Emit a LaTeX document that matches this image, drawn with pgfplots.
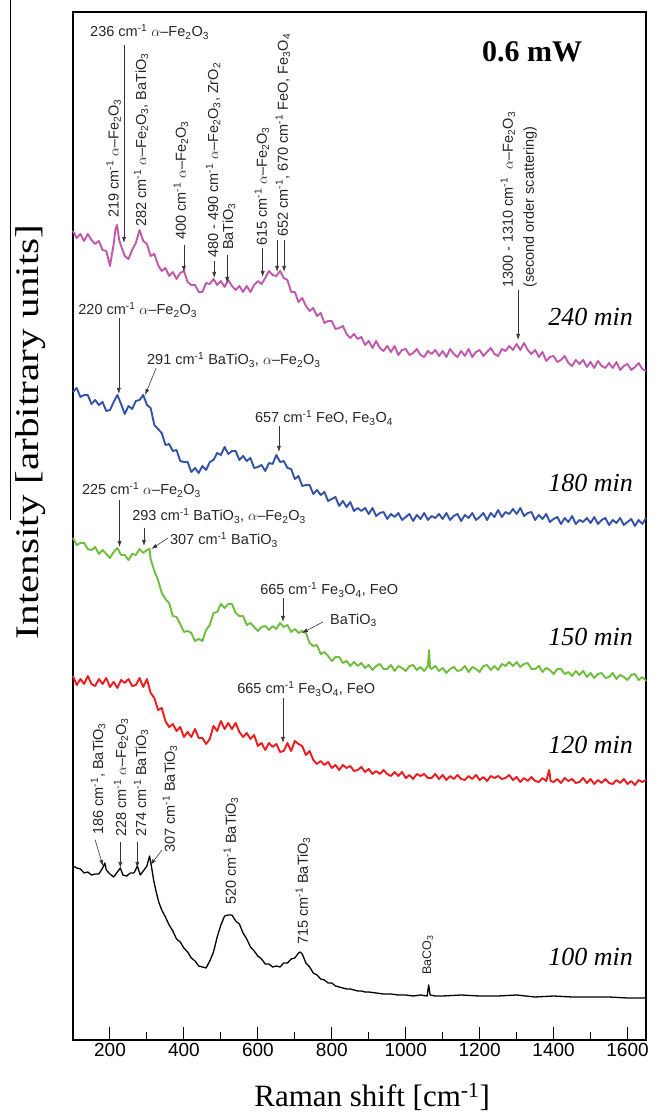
\documentclass[border=0pt]{standalone}
\usepackage{fontspec}
\setmainfont{Liberation Serif}
\setsansfont{Liberation Sans}
\usepackage{graphicx}
\usepackage{pgfplots}
\pgfplotsset{compat=1.18}
\usetikzlibrary{arrows.meta}
\definecolor{cmag}{RGB}{192,88,172}
\definecolor{cblue}{RGB}{52,82,168}
\definecolor{cgreen}{RGB}{110,190,60}
\definecolor{cred}{RGB}{238,28,30}
\newcommand{\cmi}{cm\textsuperscript{-1}}
\newcommand{\aFe}{$\alpha$--Fe\textsubscript{2}O\textsubscript{3}}
\newcommand{\BT}{BaTiO\textsubscript{3}}
\newcommand{\FeFe}{Fe\textsubscript{3}O\textsubscript{4}}
\newcommand{\annf}{\fontsize{14.5}{21}\selectfont\sffamily}
\tikzset{arr/.style={-{Latex[length=6pt,width=4pt]}, line width=0.6pt, black!80},
 ann/.style={font=\annf, inner sep=0pt, text=black!85},
 vann/.style={ann, rotate=90, anchor=west},
 tlab/.style={font=\fontsize{26}{26}\selectfont\itshape, anchor=east, inner sep=0pt}}
\begin{document}
\begin{tikzpicture}
\begin{axis}[
 scale only axis, width=573pt, height=1028pt,
 xmin=100, xmax=1650, ymin=0, ymax=1028,
 axis line style={line width=1.3pt},
 xtick={200,400,...,1600},
 minor xtick={300,500,...,1500},
 ytick=\empty,
 xtick pos=bottom, tick align=inside,
 major tick length=13pt, minor tick length=8pt,
 tick style={line width=1pt, black},
 xticklabel style={font=\fontsize{19}{19}\selectfont\sffamily},
 /pgf/number format/assume math mode=true,
 /pgf/number format/1000 sep={},
 clip=false,
]
\addplot[cmag, line width=1.9pt, line join=round] coordinates {(100,809)(110,802)(120,806)(130,799)(140,806)(150,800)(160,796)(170,799)(180,790)(190,789)(200,774)(210,796)(215,811)(219,815)(225,800)(230,794)(240,784)(250,781)(260,790)(270,797)(280,810)(290,799)(300,796)(310,784)(320,786)(330,775)(340,769)(350,772)(360,764)(370,768)(380,761)(390,767)(400,769)(410,758)(420,755)(430,755)(440,748)(450,748)(460,757)(470,756)(480,761)(490,755)(500,759)(510,753)(520,760)(530,754)(540,750)(550,754)(560,748)(570,754)(580,748)(590,755)(600,759)(610,756)(620,762)(630,769)(640,765)(650,764)(660,769)(670,762)(680,760)(690,748)(700,748)(710,738)(720,742)(730,734)(740,729)(750,732)(760,724)(770,727)(780,717)(790,719)(800,719)(810,711)(820,712)(830,714)(840,706)(850,702)(860,706)(870,701)(880,703)(890,695)(900,699)(910,692)(920,699)(930,692)(940,689)(950,694)(960,688)(970,694)(980,685)(990,690)(1000,691)(1010,685)(1020,687)(1030,691)(1040,685)(1050,683)(1060,689)(1070,686)(1080,690)(1090,684)(1100,689)(1110,683)(1120,691)(1130,686)(1140,683)(1150,689)(1160,684)(1170,691)(1180,683)(1190,688)(1200,690)(1210,684)(1220,688)(1230,692)(1240,686)(1250,684)(1260,691)(1270,689)(1280,694)(1290,690)(1300,696)(1310,690)(1320,697)(1330,690)(1340,686)(1350,690)(1360,683)(1370,688)(1380,679)(1390,683)(1400,684)(1410,678)(1420,680)(1430,684)(1440,677)(1450,674)(1460,680)(1470,676)(1480,680)(1490,673)(1500,678)(1510,672)(1520,679)(1530,674)(1540,672)(1550,677)(1560,672)(1570,678)(1580,670)(1590,674)(1600,676)(1610,670)(1620,673)(1630,677)(1640,671)(1650,669)};
\addplot[cblue, line width=1.9pt, line join=round] coordinates {(100,648)(110,652)(120,643)(130,645)(140,645)(150,636)(160,640)(170,635)(180,638)(190,629)(200,630)(210,638)(220,645)(230,636)(240,626)(250,634)(260,631)(270,639)(280,640)(290,645)(300,635)(310,632)(320,615)(330,611)(340,607)(350,595)(360,596)(370,589)(380,590)(390,579)(400,578)(410,578)(420,568)(430,572)(440,567)(450,574)(460,570)(470,578)(480,580)(490,587)(500,585)(510,593)(520,586)(530,589)(540,589)(550,580)(560,584)(570,579)(580,582)(590,572)(600,573)(610,575)(620,569)(630,577)(640,576)(650,585)(660,578)(670,579)(680,572)(690,571)(700,561)(710,564)(720,554)(730,555)(740,555)(750,546)(760,550)(770,545)(780,548)(790,539)(800,541)(810,543)(820,534)(830,539)(840,533)(850,538)(860,529)(870,532)(880,529)(890,532)(900,526)(910,532)(920,524)(930,527)(940,528)(950,521)(960,526)(970,523)(980,527)(990,520)(1000,523)(1010,526)(1020,519)(1030,525)(1040,521)(1050,527)(1060,520)(1070,524)(1080,522)(1090,526)(1100,521)(1110,527)(1120,520)(1130,524)(1140,526)(1150,519)(1160,525)(1170,522)(1180,527)(1190,520)(1200,523)(1210,527)(1220,520)(1230,527)(1240,523)(1250,530)(1260,523)(1270,528)(1280,526)(1290,531)(1300,526)(1310,532)(1320,524)(1330,527)(1340,528)(1350,520)(1360,525)(1370,521)(1380,526)(1390,518)(1400,521)(1410,523)(1420,516)(1430,522)(1440,518)(1450,524)(1460,516)(1470,520)(1480,518)(1490,522)(1500,517)(1510,523)(1520,516)(1530,520)(1540,522)(1550,515)(1560,520)(1570,517)(1580,522)(1590,515)(1600,518)(1610,521)(1620,514)(1630,520)(1640,516)(1650,522)};
\addplot[cgreen, line width=1.9pt, line join=round] coordinates {(100,502)(110,495)(120,497)(130,497)(140,491)(150,490)(160,493)(170,486)(180,490)(190,486)(200,482)(210,488)(220,492)(230,485)(240,485)(250,480)(260,486)(270,485)(280,491)(290,487)(300,490)(307,491)(310,481)(320,469)(330,460)(340,447)(350,441)(360,437)(370,424)(380,423)(390,416)(400,408)(410,409)(420,407)(430,399)(440,401)(450,399)(460,410)(470,415)(480,427)(490,428)(500,436)(510,432)(520,436)(530,436)(540,427)(550,424)(560,424)(570,415)(580,417)(590,413)(600,409)(610,413)(620,414)(630,410)(640,414)(650,411)(660,417)(670,413)(680,415)(690,408)(700,411)(710,407)(720,409)(730,407)(740,397)(750,394)(760,395)(770,386)(780,388)(790,384)(800,379)(810,383)(820,383)(830,377)(840,379)(850,374)(860,378)(870,374)(880,377)(890,372)(900,375)(910,370)(920,374)(930,376)(940,371)(950,371)(960,375)(970,369)(980,374)(990,372)(1000,369)(1010,374)(1020,375)(1030,370)(1040,373)(1050,369)(1060,374)(1063,390)(1066,372)(1070,371)(1080,374)(1090,369)(1100,372)(1110,367)(1120,371)(1130,373)(1140,369)(1150,370)(1160,374)(1170,368)(1180,373)(1190,371)(1200,368)(1210,374)(1220,375)(1230,370)(1240,374)(1250,370)(1260,376)(1270,374)(1280,378)(1290,374)(1300,378)(1310,373)(1320,376)(1330,377)(1340,371)(1350,371)(1360,374)(1370,368)(1380,372)(1390,370)(1400,366)(1410,371)(1420,371)(1430,366)(1440,368)(1450,364)(1460,369)(1470,365)(1480,369)(1490,363)(1500,367)(1510,362)(1520,366)(1530,367)(1540,362)(1550,363)(1560,367)(1570,361)(1580,365)(1590,363)(1600,360)(1610,365)(1620,366)(1630,360)(1640,363)(1650,359)};
\addplot[cred, line width=1.9pt, line join=round] coordinates {(100,364)(110,355)(120,361)(130,356)(140,364)(150,356)(160,354)(170,361)(180,356)(190,362)(200,353)(210,358)(220,352)(230,360)(240,357)(250,361)(260,354)(270,355)(280,362)(290,353)(300,361)(310,347)(320,342)(330,330)(340,332)(350,319)(360,313)(370,316)(380,309)(390,313)(400,303)(410,308)(420,303)(430,311)(440,302)(450,302)(460,296)(470,301)(480,314)(490,309)(500,319)(510,311)(520,317)(530,311)(540,317)(550,308)(560,303)(570,307)(580,301)(590,305)(600,294)(610,297)(620,290)(630,297)(640,293)(650,296)(660,288)(670,289)(680,297)(690,289)(700,299)(710,296)(720,294)(730,285)(740,289)(750,280)(760,276)(770,279)(780,275)(790,278)(800,272)(810,275)(820,270)(830,275)(840,272)(850,274)(860,269)(870,270)(880,273)(890,268)(900,271)(910,266)(920,269)(930,266)(940,270)(950,266)(960,264)(970,268)(980,264)(990,268)(1000,262)(1010,265)(1020,261)(1030,266)(1040,264)(1050,266)(1060,262)(1070,262)(1080,266)(1090,261)(1100,265)(1110,260)(1120,264)(1130,261)(1140,265)(1150,261)(1160,260)(1170,264)(1180,261)(1190,265)(1200,260)(1210,263)(1220,259)(1230,264)(1240,262)(1250,264)(1260,261)(1270,262)(1280,265)(1290,260)(1300,263)(1310,258)(1320,262)(1330,259)(1340,263)(1350,259)(1360,258)(1370,262)(1380,259)(1388,270)(1392,259)(1400,258)(1410,261)(1420,257)(1430,262)(1440,259)(1450,261)(1460,257)(1470,258)(1480,262)(1490,257)(1500,261)(1510,256)(1520,260)(1530,257)(1540,261)(1550,257)(1560,256)(1570,260)(1580,257)(1590,261)(1600,256)(1610,259)(1620,255)(1630,260)(1640,258)(1650,260)};
\addplot[black, line width=1.3pt, line join=round] coordinates {(100,174)(110,172)(120,171)(130,167)(140,168)(150,165)(160,166)(170,166)(180,172)(186,177)(190,170)(200,166)(210,163)(220,168)(228,172)(235,165)(245,164)(255,167)(265,167)(274,174)(282,165)(290,169)(300,174)(307,184)(312,174)(318,160)(325,148)(332,138)(340,130)(350,123)(360,115)(370,109)(380,101)(390,98)(400,92)(410,88)(420,82)(430,79)(440,74)(450,73)(460,72)(470,79)(480,88)(490,103)(500,115)(510,124)(520,125)(530,125)(540,119)(550,116)(560,107)(570,101)(580,93)(590,89)(600,84)(610,81)(620,76)(630,76)(640,73)(650,74)(660,73)(670,77)(680,77)(690,81)(700,82)(710,87)(715,88)(720,86)(730,77)(740,73)(750,67)(760,65)(770,61)(780,60)(790,57)(800,57)(810,54)(820,53)(830,52)(840,51)(850,51)(860,50)(870,49)(880,49)(890,48)(900,48)(920,47)(940,46)(960,46)(980,45)(1000,45)(1020,44)(1040,45)(1058,44)(1062,55)(1066,45)(1080,44)(1100,44)(1150,45)(1200,44)(1250,44)(1300,45)(1350,43)(1400,44)(1450,43)(1500,43)(1550,43)(1600,42)(1650,42)};

% --- 240 min annotations
\node[ann, anchor=west] at (axis cs:146,1008) {236 \cmi\ \aFe};
\draw[arr] (axis cs:238,995) -- (axis cs:238,797);
\node[vann] at (axis cs:210,822) {219 \cmi\ \aFe};
\node[vann] at (axis cs:284,813) {282 \cmi\ \aFe, \BT};
\node[vann] at (axis cs:392,800) {400 \cmi\ \aFe};
\draw[arr] (axis cs:400,795) -- (axis cs:400,768);
\node[vann] at (axis cs:479,782) {480 - 490 \cmi\ \aFe, ZrO\textsubscript{2}};
\draw[arr] (axis cs:482,779) -- (axis cs:482,762);
\node[vann] at (axis cs:522,790) {\BT};
\draw[arr] (axis cs:517,785) -- (axis cs:517,757);
\node[vann] at (axis cs:611,794) {615 \cmi\ \aFe};
\draw[arr] (axis cs:613,792) -- (axis cs:613,763);
\node[vann] at (axis cs:668,803) {652 \cmi, 670 \cmi\ FeO, \FeFe};
\draw[arr] (axis cs:652,800) -- (axis cs:652,768);
\draw[arr] (axis cs:671,800) -- (axis cs:671,768);
\node[vann, align=left] at (axis cs:1306,752) {1300 - 1310 \cmi\ \ \aFe\\(second order scattering)};
\draw[arr] (axis cs:1304,750) -- (axis cs:1304,700);
% --- 180 min
\node[ann, anchor=west] at (axis cs:114,730) {220 \cmi\ \aFe};
\draw[arr] (axis cs:224,722) -- (axis cs:224,646);
\node[ann, anchor=west] at (axis cs:300,680) {291 \cmi\ \BT, \aFe};
\draw[arr] (axis cs:325,672) -- (axis cs:295,645);
\node[ann, anchor=west] at (axis cs:592,622) {657 \cmi\ FeO, \FeFe};
\draw[arr] (axis cs:657,614) -- (axis cs:657,588);
% --- 150 min
\node[ann, anchor=west] at (axis cs:124,550) {225 \cmi\ \aFe};
\draw[arr] (axis cs:226,540) -- (axis cs:226,493);
\node[ann, anchor=west] at (axis cs:260,524) {293 \cmi\ \BT, \aFe};
\draw[arr] (axis cs:292,512) -- (axis cs:292,494);
\node[ann, anchor=west] at (axis cs:362,500) {307 \cmi\ \BT};
\draw[arr] (axis cs:357,502) -- (axis cs:312,491);
\node[ann, anchor=west] at (axis cs:606,450) {665 \cmi\ \FeFe, FeO};
\draw[arr] (axis cs:668,442) -- (axis cs:668,418);
\node[ann, anchor=west] at (axis cs:795,420) {\BT};
\draw[arr] (axis cs:776,418) -- (axis cs:719,407);
% --- 120 min
\node[ann, anchor=west] at (axis cs:544,351) {665 \cmi\ \FeFe, FeO};
\draw[arr] (axis cs:668,342) -- (axis cs:668,297);
% --- 100 min
\node[vann] at (axis cs:168,205) {186 \cmi, \BT};
\draw[arr] (axis cs:160,200) -- (axis cs:181,174);
\node[vann] at (axis cs:230,203) {228 \cmi\ \aFe};
\draw[arr] (axis cs:228,198) -- (axis cs:228,172);
\node[vann] at (axis cs:284,203) {274 \cmi\ \BT};
\draw[arr] (axis cs:274,198) -- (axis cs:274,172);
\node[vann] at (axis cs:362,187) {307 \cmi\ \BT};
\draw[arr] (axis cs:341,190) -- (axis cs:309,175);
\node[vann] at (axis cs:527,135) {520 \cmi\ \BT};
\node[vann] at (axis cs:722,95) {715 \cmi\ \BT};
\node[vann, font=\fontsize{12.5}{14}\selectfont\sffamily] at (axis cs:1060,65) {BaCO\textsubscript{3}};
% --- time labels
\node[tlab] at (axis cs:1615,723) {240 min};
\node[tlab] at (axis cs:1615,557) {180 min};
\node[tlab] at (axis cs:1615,403) {150 min};
\node[tlab] at (axis cs:1615,295) {120 min};
\node[tlab] at (axis cs:1615,83) {100 min};
\node[font=\fontsize{30}{30}\selectfont\bfseries, inner sep=0pt] at (axis cs:1342,988) {0.6 mW};
% --- axis labels
\node[font=\fontsize{31}{31}\selectfont, inner sep=0pt] at (axis cs:909,-57) {Raman shift [cm\textsuperscript{-1}]};
\node[rotate=90, font=\fontsize{33}{33}\selectfont, inner sep=0pt] at (axis cs:-16,608) {\scalebox{1.25}[1]{Intensity [arbitrary units]}};
\draw[line width=0.8pt] (axis cs:-70,1040) -- (axis cs:-70,520);
\coordinate (bl) at (axis cs:-97.5,-75);
\coordinate (tr) at (axis cs:1690.5,1040);
\end{axis}
\pgfresetboundingbox
\path[use as bounding box] (bl) rectangle (tr);
\end{tikzpicture}
\end{document}
